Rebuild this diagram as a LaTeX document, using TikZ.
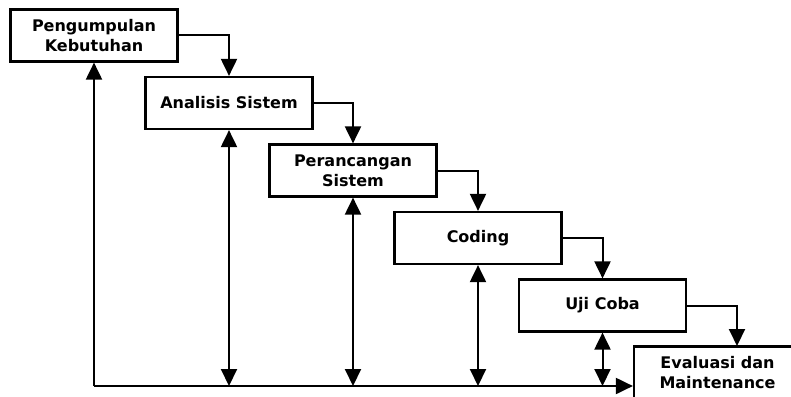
\documentclass[tikz,border=0pt]{standalone}
\usepackage{fontspec}
\setmainfont{DejaVu Sans}
\usetikzlibrary{arrows.meta}
\begin{document}
\begin{tikzpicture}[x=1pt,y=-1pt,
  stage/.style={draw=black, line width=2.2pt, fill=white, minimum width=167pt, minimum height=52pt,
    inner sep=0pt, align=center, font=\bfseries\fontsize{16}{20}\selectfont},
  conn/.style={line width=2pt, -{Triangle[width=16pt,length=17pt]}},
  dconn/.style={line width=2pt, {Triangle[width=16pt,length=17pt]}-{Triangle[width=16pt,length=17pt]}}
]
\useasboundingbox (0,0) rectangle (791,396);
\clip (0,0) rectangle (791,396);
\node[stage] (s1) at (94,35.5) {Pengumpulan\\Kebutuhan};
\node[stage] (s2) at (229,103) {Analisis Sistem};
\node[stage] (s3) at (353,170.5) {Perancangan\\Sistem};
\node[stage] (s4) at (478,238) {Coding};
\node[stage] (s5) at (602.5,305.5) {Uji Coba};
\node[stage] (s6) at (717.5,372.5) {Evaluasi dan\\Maintenance};
\coordinate (c0) at (94,386);
\coordinate (t6) at (737,346);
% forward flow
\draw[conn] (s1.east) -| (s2.north);
\draw[conn] (s2.east) -| (s3.north);
\draw[conn] (s3.east) -| (s4.north);
\draw[conn] (s4.east) -| (s5.north);
\draw[conn] (s5.east) -| (t6);
% feedback
\draw[conn] (c0) -- (s1.south);
\draw[conn] (c0) -- (s6.west |- c0);
\draw[dconn] (s2.south) -- (s2.south |- c0);
\draw[dconn] (s3.south) -- (s3.south |- c0);
\draw[dconn] (s4.south) -- (s4.south |- c0);
\draw[dconn] (s5.south) -- (s5.south |- c0);
\end{tikzpicture}
\end{document}
